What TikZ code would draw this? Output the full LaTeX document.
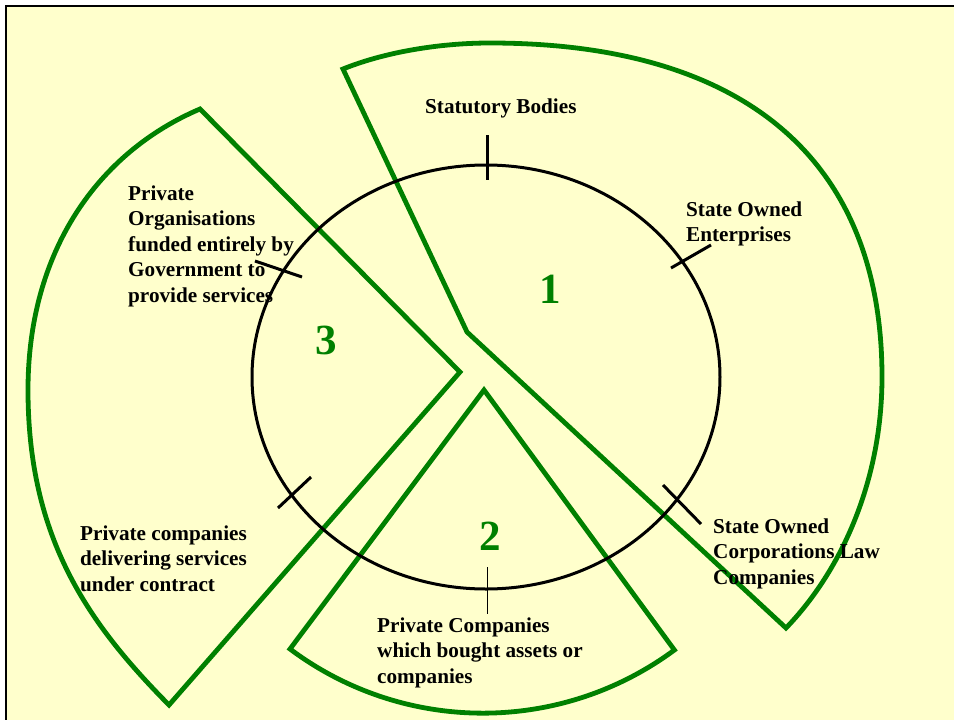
\documentclass[tikz,border=0pt]{standalone}
\usepackage{fontspec}
\setmainfont{Liberation Serif}
\definecolor{paper}{HTML}{FFFFCC}
\definecolor{leaf}{RGB}{0,128,0}

\begin{document}
\begin{tikzpicture}[x=1pt, y=-1pt]
    % Styles
    \tikzstyle{txt} = [anchor=north west, align=left, inner sep=0pt, font=\bfseries\fontsize{21.2}{25.5}\selectfont]
    \tikzstyle{num} = [inner sep=0pt, text=leaf, font=\bfseries\fontsize{43}{50}\selectfont]
    \tikzstyle{sector} = [draw=leaf, line width=4.8pt, line join=miter]
    \tikzstyle{tick} = [line width=3pt]

    % Page
    \useasboundingbox (0,0) rectangle (954,720);
    \fill[white] (0,0) rectangle (954,720);
    \fill[paper] (6,6) rectangle (960,730);
    \draw[line width=2pt] (6,730) -- (6,6) -- (960,6);

    % Sectors
    % 1
    \coordinate (s1a) at (467,332);
    \draw[sector] (s1a) -- (343,69)
        .. controls (385,52) and (440,43) .. (490,43)
        .. controls (745,43) and (882,160) .. (882,377)
        .. controls (882,480) and (842,570) .. (786,628) -- cycle;
    % 3
    \coordinate (s3a) at (460,372);
    \draw[sector] (s3a) -- (200,109)
        .. controls (99,152) and (28,250) .. (28,390)
        .. controls (28,540) and (90,625) .. (169,705) -- cycle;
    % 2
    \coordinate (s2a) at (484,390);
    \draw[sector] (s2a) -- (290,649) arc[start angle=126.8, end angle=53.5, radius=322] -- cycle;

    % Circle
    \coordinate (c) at (486,377);
    \draw[line width=3pt] (c) ellipse [x radius=234, y radius=212];

    % Ticks
    \draw[tick] (487,135) -- (487,180);
    \draw[tick] (671,268) -- (711,245);
    \draw[tick] (663,485) -- (701,524);
    \draw[tick] (255,261) -- (302,277);
    \draw[tick] (278,508) -- (311,477);
    \draw[line width=1pt] (487,567) -- (487,614);

    % Labels
    \node[txt] (stat) at (425,98.5) {Statutory Bodies};
    \node[txt] (soe) at (686,201.5) {State Owned\\Enterprises};
    \node[txt] (soc) at (713,518.5) {State Owned\\Corporations Law\\Companies};
    \node[txt] (porg) at (128,185.5) {Private\\Organisations\\funded entirely by\\Government to\\provide services};
    \node[txt] (pdel) at (80,525.5) {Private companies\\delivering services\\under contract};
    \node[txt] (pbuy) at (377,617.5) {Private Companies\\which bought assets or\\companies};

    % Numbers
    \node[num] (n1) at (550,289) {1};
    \node[num] (n2) at (490,536) {2};
    \node[num] (n3) at (326,340) {3};

\end{tikzpicture}
\end{document}
